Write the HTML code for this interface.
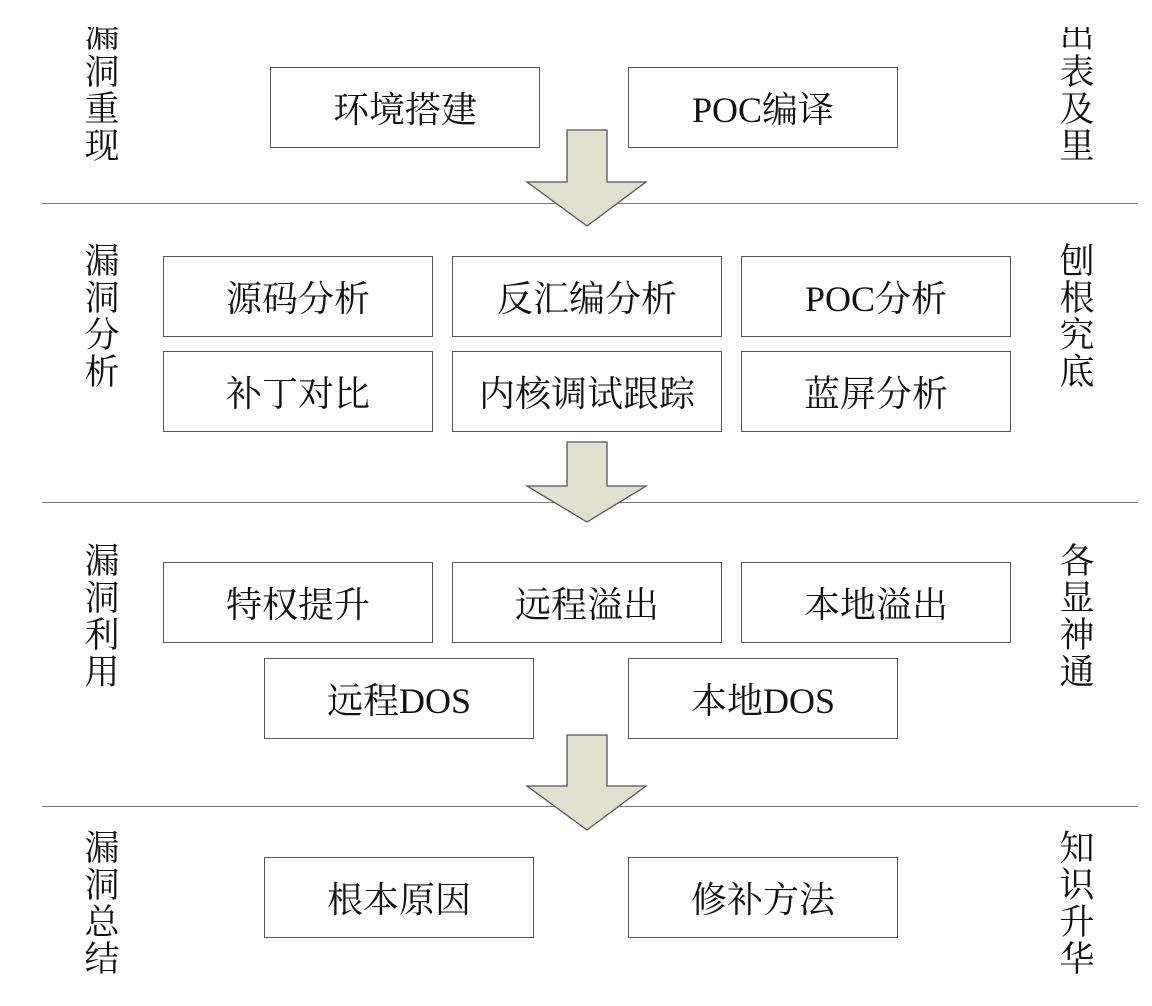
<!DOCTYPE html>
<html><head><meta charset="utf-8"><style>
body{margin:0;width:1152px;height:1006px;background:#fff;position:relative;overflow:hidden;font-family:"Liberation Serif","Noto Serif CJK SC",serif;}
.b{position:absolute;border:1.5px solid #555;box-sizing:border-box;background:#fff;display:flex;align-items:center;justify-content:center;font-size:36px;color:#111;}
.h{position:absolute;left:42px;width:1096px;height:0;border-top:1.5px solid #777;}
.v{position:absolute;width:40px;font-size:35px;line-height:37px;text-align:center;color:#111;}
svg{position:absolute;left:0;top:0;}
</style></head><body>
<div class="h" style="top:203px"></div>
<div class="h" style="top:502px"></div>
<div class="h" style="top:806px"></div>

<div style="position:absolute;left:80px;top:27px;width:50px;height:150px;overflow:hidden"><div class="v" style="left:2px;top:-10px">漏洞重现</div></div>
<div style="position:absolute;left:1055px;top:27px;width:50px;height:150px;overflow:hidden"><div class="v" style="left:2px;top:-10px">出表及里</div></div>
<div class="v" style="left:82px;top:243px">漏洞分析</div>
<div class="v" style="left:1057px;top:243px">刨根究底</div>
<div class="v" style="left:82px;top:543px">漏洞利用</div>
<div class="v" style="left:1057px;top:543px">各显神通</div>
<div class="v" style="left:82px;top:830px">漏洞总结</div>
<div class="v" style="left:1057px;top:830px">知识升华</div>

<div class="b" style="left:270px;top:67px;width:270px;height:81px">环境搭建</div>
<div class="b" style="left:628px;top:67px;width:270px;height:81px">POC编译</div>

<div class="b" style="left:163px;top:256px;width:270px;height:81px">源码分析</div>
<div class="b" style="left:452px;top:256px;width:270px;height:81px">反汇编分析</div>
<div class="b" style="left:741px;top:256px;width:270px;height:81px">POC分析</div>
<div class="b" style="left:163px;top:351px;width:270px;height:81px">补丁对比</div>
<div class="b" style="left:452px;top:351px;width:270px;height:81px">内核调试跟踪</div>
<div class="b" style="left:741px;top:351px;width:270px;height:81px">蓝屏分析</div>

<div class="b" style="left:163px;top:562px;width:270px;height:81px">特权提升</div>
<div class="b" style="left:452px;top:562px;width:270px;height:81px">远程溢出</div>
<div class="b" style="left:741px;top:562px;width:270px;height:81px">本地溢出</div>
<div class="b" style="left:264px;top:658px;width:270px;height:81px">远程DOS</div>
<div class="b" style="left:628px;top:658px;width:270px;height:81px">本地DOS</div>

<div class="b" style="left:264px;top:857px;width:270px;height:81px">根本原因</div>
<div class="b" style="left:628px;top:857px;width:270px;height:81px">修补方法</div>

<svg width="1152" height="1006">
<g fill="#dfe0cd" stroke="#555" stroke-width="1.3">
<polygon points="567,130 607,130 607,182 646,182 587,226 527,182 567,182"/>
<polygon points="567,442 607,442 607,486 646,486 587,522 527,486 567,486"/>
<polygon points="567,735 607,735 607,786 646,786 587,830 527,786 567,786"/>
</g>
</svg>
</body></html>
